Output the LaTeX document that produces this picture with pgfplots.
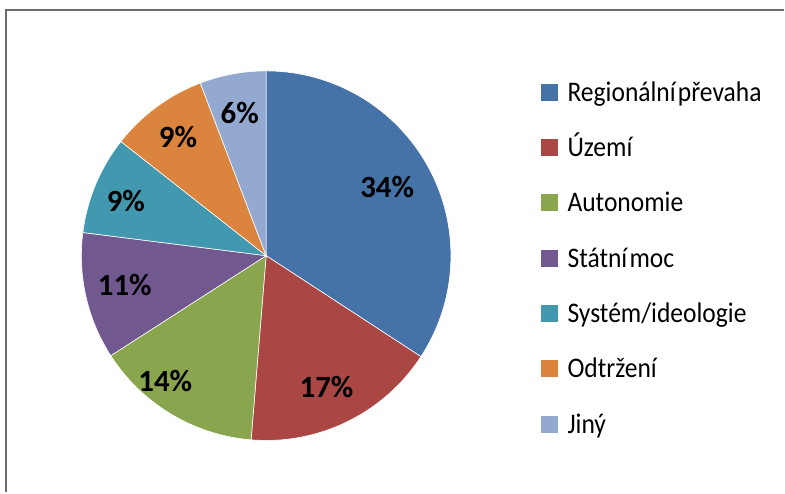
\documentclass[border=0pt]{standalone}
\usepackage{fontspec}
\setmainfont{Carlito}
\newfontfamily\legfont[FakeStretch=0.9, WordSpace=0.4]{Carlito}
\usepackage{pgfplots}
\pgfplotsset{compat=1.18}
\usepackage{pgfplotstable}
\definecolor{cA}{HTML}{4572A7}
\definecolor{cB}{HTML}{AA4643}
\definecolor{cC}{HTML}{89A54E}
\definecolor{cD}{HTML}{71588F}
\definecolor{cE}{HTML}{4198AF}
\definecolor{cF}{HTML}{DB843D}
\definecolor{cG}{HTML}{93A9CF}
% shares in percent, clockwise from the top
\def\vA{34.2}\def\vB{17.1}\def\vC{14.6}\def\vD{11.1}\def\vE{8.6}\def\vF{8.6}\def\vG{5.8}
\pgfmathsetmacro\aA{90}
\pgfmathsetmacro\aB{\aA-3.6*\vA}
\pgfmathsetmacro\aC{\aB-3.6*\vB}
\pgfmathsetmacro\aD{\aC-3.6*\vC}
\pgfmathsetmacro\aE{\aD-3.6*\vD}
\pgfmathsetmacro\aF{\aE-3.6*\vE}
\pgfmathsetmacro\aG{\aF-3.6*\vF}
\pgfmathsetmacro\aH{\aG-3.6*\vG}
\begin{document}
\begin{tikzpicture}
\begin{axis}[
  x=185bp, y=185bp,
  xmin=-1.4405, xmax=2.8027, ymin=-1.2811, ymax=1.3838,
  hide axis, clip=false,
  legend cell align=left,
  legend image code/.code={\fill[#1] (0bp,-9bp) rectangle (18bp,9bp);},
  legend style={at={(axis cs:1.482,0.937)}, anchor=north west,
    draw=none, fill=none, inner sep=0pt, outer sep=0pt,
    row sep=36.8bp, column sep=9bp,
    font=\legfont\fontsize{28.5}{28.5}\selectfont,
    nodes={inner sep=0pt, text height=18.4bp, text depth=0pt}},
  every axis plot/.append style={draw=white, line width=0.6bp, samples=90},
]
\path (axis cs:-1.4405,-1.2811) (axis cs:2.8027,1.3838);
\addplot[fill=cA, domain=\aB:\aA] ({cos(x)},{sin(x)}) -- (axis cs:0,0) -- cycle;
\addlegendentry{Regionální převaha}
\addplot[fill=cB, domain=\aC:\aB] ({cos(x)},{sin(x)}) -- (axis cs:0,0) -- cycle;
\addlegendentry{Území}
\addplot[fill=cC, domain=\aD:\aC] ({cos(x)},{sin(x)}) -- (axis cs:0,0) -- cycle;
\addlegendentry{Autonomie}
\addplot[fill=cD, domain=\aE:\aD] ({cos(x)},{sin(x)}) -- (axis cs:0,0) -- cycle;
\addlegendentry{Státní moc}
\addplot[fill=cE, domain=\aF:\aE] ({cos(x)},{sin(x)}) -- (axis cs:0,0) -- cycle;
\addlegendentry{Systém/ideologie}
\addplot[fill=cF, domain=\aG:\aF] ({cos(x)},{sin(x)}) -- (axis cs:0,0) -- cycle;
\addlegendentry{Odtržení}
\addplot[fill=cG, domain=\aH:\aG] ({cos(x)},{sin(x)}) -- (axis cs:0,0) -- cycle;
\addlegendentry{Jiný}
\begin{scope}[every node/.style={font=\fontsize{31}{31}\selectfont\bfseries, inner sep=0pt}]
\node at (axis cs:0.655,0.374) {34\%};
\node at (axis cs:0.327,-0.708) {17\%};
\node at (axis cs:-0.546,-0.676) {14\%};
\node at (axis cs:-0.765,-0.157) {11\%};
\node at (axis cs:-0.759,0.297) {9\%};
\node at (axis cs:-0.477,0.645) {9\%};
\node at (axis cs:-0.143,0.773) {6\%};
\end{scope}
\draw[color=gray!85!black, line width=2bp] (axis cs:-1.408,-1.2811) -- (axis cs:-1.408,1.330) -- (axis cs:2.8027,1.330);
\end{axis}
\end{tikzpicture}
\end{document}
